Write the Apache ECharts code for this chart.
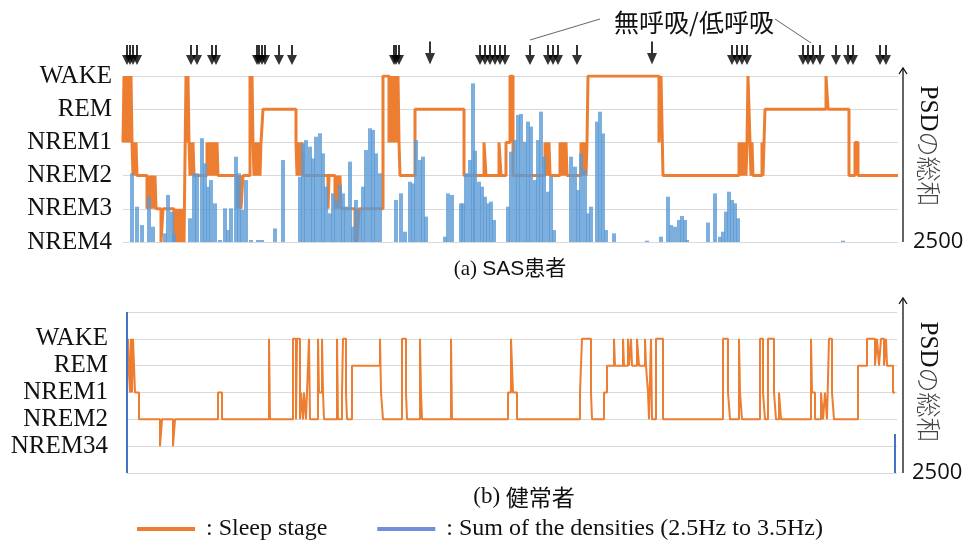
<!DOCTYPE html>
<html><head><meta charset="utf-8">
<script src="https://cdn.jsdelivr.net/npm/echarts@6/dist/echarts.min.js"></script>
<style>html,body{margin:0;padding:0;background:#fff}#c{width:968px;height:545px}</style>
</head><body><div id="c"></div>
<script>
// ---- categories / tick labels ----
const topStageLabels = ['NREM4', 'NREM3', 'NREM2', 'NREM1', 'REM', 'WAKE'];
const bottomStageLabels = ['', 'NREM34', 'NREM2', 'NREM1', 'REM', 'WAKE', ''];
const psdMinLabel = 2500;

// ---- (a) SAS patient: sleep stage [epoch, stage] (0=NREM4 .. 5=WAKE) ----
const sasStage = [
  [0,3],[1,5],[3,3],[4,5],[5,3],[6,5],[7,3],[8,5],[9,3],[10,2],[11,3],[12,2],[13,3],[14,2],
  [24,1],[26,2],[27,1],[28,2],[29,1],[30,2],[31,1],[32,2],[33,1],[38,0],[40,1],
  [51,0],[52,1],[53,0],[54,1],[55,0],[56,1],[57,0],[58,1],[59,0],[60,1],[61,0],[62,0],
  [63,5],[64,3],[65,5],[66,3],[67,2],[68,3],[69,2],[70,3],[71,2],
  [84,3],[85,2],[86,3],[87,2],[88,3],[89,2],[90,3],[91,2],[92,3],[93,2],[94,3],[95,2],
  [114,1],[115,2],[116,1],[117,2],[118,1],[120,2],
  [127,5],[128,3],[129,5],[130,3],[131,2],[132,3],[133,2],[134,3],[135,2],[136,3],[137,2],[138,3],
  [140,4],[173,3],[174,2],[175,3],[176,2],[177,3],[178,2],[179,3],[180,2],
  [205,1],[206,2],[212,1],[213,2],[214,1],[215,2],[216,1],[217,2],[218,1],
  [232,0],[233,1],[234,0],[236,1],
  [260,5],[266,3],[267,5],[268,3],[269,5],[270,3],[271,5],[272,3],[273,5],[274,3],[275,5],[276,3],[277,2],
  [292,4],[341,2],[361,3],[363,2],[376,3],[378,2],[383,3],[387,5],[390,2],
  [422,3],[423,2],[424,3],[425,2],[426,3],[427,2],
  [437,3],[438,2],[439,3],[440,2],[441,3],[442,2],[443,3],[444,2],
  [458,3],[459,2],[460,3],[461,2],[462,3],[463,2],[464,3],[465,5],
  [536,3],[538,5],[540,2],
  [616,3],[617,2],[618,3],[619,2],[620,3],[621,2],[622,3],[623,2],[624,3],[625,5],[627,3],[628,2],[629,3],[630,2],
  [639,3],[640,2],[642,4],[703,5],[705,4],[726,2],[732,3],[735,2],[775,2]
];

// ---- (a) SAS patient: sum of PSD densities (2.5-3.5 Hz) [epoch, value] ----
const sasPsd = [
  [9,2914],[14,2713],[19,2602],[26,2773],[30,2592],[42,2552],[45,2783],[49,2683],[51,2552],
  [67,2643],[71,2914],[74,2914],[79,3125],[82,2974],[85,2833],[88,2873],[92,2733],[97,2512],
  [102,2703],[105,2572],[108,2703],[113,3014],[116,2914],[119,2693],[123,2873],[128,2512],
  [135,2512],[139,2512],[152,2582],[160,2994],
  [177,2893],[180,3094],[183,3114],[187,3074],[190,3004],[193,3134],[197,3155],[200,3034],
  [203,2833],[207,2673],[210,2793],[213,2753],[217,2843],[220,2793],[223,2713],[227,2984],
  [230,2592],[233,2753],[237,2693],[240,2833],[243,3054],[247,3185],[250,3175],[253,3034],[257,2914],
  [273,2753],[278,2793],[282,2562],[287,2863],[290,2853],[293,3114],[297,2994],[300,3014],[303,2653],
  [322,2532],[325,2793],[329,2783],[338,2733],[340,2733],[343,2914],[347,2994],[350,3456],
  [352,3050],[356,2863],[359,2833],[362,2773],[365,2733],[368,2743],[371,2633],
  [385,2713],[388,3044],[392,3114],[395,3265],[398,3271],[402,3104],[405,3225],[408,3195],
  [412,2873],[415,3114],[418,3285],[421,3014],[425,2803],[428,2893],[431,2572],
  [448,3014],[452,2954],[455,2813],[458,3034],[462,2934],[465,2673],[468,2713],
  [474,3225],[477,3285],[480,3154],[483,2572],[491,2552],[524,2508],
  [538,2532],[545,2773],[548,2602],[552,2592],[556,2633],[559,2657],[562,2633],[564,2512],
  [585,2617],[592,2793],[597,2532],[600,2562],[603,2683],[606,2803],[609,2753],[612,2733],[615,2643],
  [720,2508]
];

// ---- (a) apnea / hypopnea events [epoch] ----
const sasEvents = [4,7,10,14,68,74,89,93,134,136,139,142,156,169,271,273,276,
  357,362,367,372,377,382,407,425,430,435,454,609,614,619,624,680,685,690,697,713,725,730,757,763];
const sasLongEvents = [307, 529];

// ---- (b) healthy subject: sleep stage [epoch, stage] (1=NREM34 .. 5=WAKE) ----
const healthyStage = [
  [0,3],[1,5],[3,3],[4,5],[5,3],[6,5],[8,3],[12,2],[33,1],[35,2],[46,1],[48,2],[91,3],[95,2],
  [142,5],[143,2],[166,5],[169,2],[170,5],[173,2],[174,3],[176,2],[177,3],[179,2],[180,3],
  [182,5],[183,2],[191,5],[192,3],[195,5],[196,3],[197,2],[210,5],[211,2],
  [215,3],[216,5],[219,3],[220,2],[225,4],[253,5],[254,3],[256,2],
  [275,5],[279,3],[280,2],[293,5],[294,3],[295,2],[324,5],[325,2],
  [381,3],[384,5],[386,3],[390,2],[453,3],[455,5],[464,3],[465,2],[477,3],
  [480,4],[487,5],[488,4],[496,5],[497,4],[501,5],[502,4],[504,5],[505,4],[510,5],[512,4],
  [518,5],[519,4],[521,3],[522,2],[524,5],[525,2],[529,5],[536,2],
  [596,5],[601,3],[603,2],[612,5],[613,3],[615,2],[633,5],[636,3],[638,2],
  [641,5],[647,3],[649,2],[652,3],[654,2],[684,5],[685,3],[688,2],
  [694,3],[696,2],[698,3],[700,2],[702,5],[705,3],[707,2],
  [731,4],[740,5],[748,4],[750,5],[752,4],[754,5],[757,4],[759,5],[760,4],[766,3],[768,3]
];
// ---- (b) healthy subject: sum of PSD densities ----
const healthyPsd = [[0,3500],[768,2742]];

const ORANGE = '#ED7D31';
const BLUE = '#5B9BD5';
const GRIDC = '#D9D9D9';
const serif = '"Liberation Serif","Times New Roman",serif';
const cjk = '"Noto Sans CJK JP","Noto Sans CJK SC",sans-serif';

const arrowPath = 'path://M4,0 L6,0 L6,10 L10,10 L5,20 L0,10 L4,10 Z';

const chart = echarts.init(document.getElementById('c'), null, {renderer: 'canvas'});

function stageAxis(gridIndex, labels, margin) {
  return {
    type: 'value', gridIndex, min: 0, max: labels.length - 1, interval: 1,
    axisLine: {show: false}, axisTick: {show: false},
    splitLine: {show: true, lineStyle: {color: GRIDC, width: 1}},
    axisLabel: {
      margin, color: '#111', fontFamily: serif, fontSize: 25,
      formatter: v => labels[Math.round(v)] || ''
    }
  };
}
function psdAxis(gridIndex) {
  return {
    type: 'value', gridIndex, position: 'right', min: 2500, max: 3500, startValue: 2500,
    axisLine: {show: false}, axisTick: {show: false}, splitLine: {show: false},
    axisLabel: {
      margin: 15, color: '#111', fontFamily: '"Open Sans","Liberation Sans",sans-serif', fontSize: 22,
      formatter: v => (v === psdMinLabel ? String(psdMinLabel) : '')
    }
  };
}

const option = {
  animation: false,
  backgroundColor: '#fff',
  grid: [
    {left: 123, top: 76, width: 775, height: 166, outerBoundsMode: 'none'},
    {left: 127, top: 312, width: 770, height: 161, outerBoundsMode: 'none'},
    {left: 123, top: 40, width: 775, height: 30, outerBoundsMode: 'none'}
  ],
  xAxis: [
    {type: 'value', gridIndex: 0, min: 0, max: 775, show: false},
    {type: 'value', gridIndex: 1, min: 0, max: 770, show: false},
    {type: 'value', gridIndex: 2, min: 0, max: 775, show: false}
  ],
  yAxis: [
    stageAxis(0, topStageLabels, 11),
    psdAxis(0),
    stageAxis(1, bottomStageLabels, 19),
    {type: 'value', gridIndex: 2, min: 0, max: 1, show: false},
    psdAxis(1)
  ],
  legend: {
    left: 137, top: 517, padding: 0, selectedMode: false,
    itemWidth: 58, itemHeight: 4, itemGap: 50, icon: 'rect',
    formatter: ': {name}',
    textStyle: {fontFamily: serif, fontSize: 24, color: '#111', padding: [0, 0, 0, 6]},
    data: [
      {name: 'Sleep stage', itemStyle: {color: ORANGE, opacity: 1}},
      {name: 'Sum of the densities (2.5Hz to 3.5Hz)', itemStyle: {color: '#6F8FD8', opacity: 1}}
    ]
  },
  series: [
    {
      name: 'Sleep stage', type: 'line', xAxisIndex: 0, yAxisIndex: 0, step: 'end',
      showSymbol: false, symbol: 'none', z: 2,
      lineStyle: {color: ORANGE, width: 3}, itemStyle: {color: ORANGE},
      data: sasStage
    },
    {
      name: 'Sum of the densities (2.5Hz to 3.5Hz)', type: 'bar', xAxisIndex: 0, yAxisIndex: 1,
      barWidth: 4, z: 3, clip: true,
      itemStyle: {color: BLUE, opacity: 0.8},
      data: sasPsd
    },
    {
      name: 'apnea', type: 'scatter', xAxisIndex: 2, yAxisIndex: 3,
      symbol: arrowPath, symbolSize: [10, 20], clip: false,
      itemStyle: {color: '#000'},
      data: sasEvents.map(e => [e, 0.5])
    },
    {
      name: 'apnea-long', type: 'scatter', xAxisIndex: 2, yAxisIndex: 3,
      symbol: arrowPath, symbolSize: [10, 23], symbolOffset: [0, -2], clip: false,
      itemStyle: {color: '#000'},
      data: sasLongEvents.map(e => [e, 0.5])
    },
    {
      name: 'Sleep stage', type: 'line', xAxisIndex: 1, yAxisIndex: 2, step: 'end',
      showSymbol: false, symbol: 'none', z: 2,
      lineStyle: {color: ORANGE, width: 2}, itemStyle: {color: ORANGE},
      data: healthyStage
    },
    {
      name: 'Sum of the densities (2.5Hz to 3.5Hz)', type: 'bar', xAxisIndex: 1, yAxisIndex: 4,
      barWidth: 2, z: 3, clip: true,
      itemStyle: {color: '#4472C4', opacity: 1},
      data: healthyPsd
    }
  ]
};
chart.setOption(option);

// ---- annotations (titles, right-hand PSD axes, callout) ----
function rightArrow(x, yBottom, yTop) {
  return [
    {type: 'line', shape: {x1: x, y1: yBottom, x2: x, y2: yTop}, style: {stroke: '#111', lineWidth: 1.3}, silent: true},
    {type: 'polyline', shape: {points: [[x - 4, yTop + 6], [x, yTop], [x + 4, yTop + 6]]}, style: {stroke: '#111', lineWidth: 1.3, fill: null}, silent: true}
  ];
}
function psdName(y) {
  return {type: 'text', x: 928, y, rotation: -Math.PI / 2, style: {
    text: '{a|PSD}{b|の総和}', align: 'center', verticalAlign: 'middle',
    rich: {a: {font: '25px ' + serif, fill: '#111'}, b: {font: '300 25px ' + cjk, fill: '#444'}}
  }};
}
const pA = chart.convertToPixel({xAxisIndex: 2, yAxisIndex: 3}, [407, 0.5]);
const pB = chart.convertToPixel({xAxisIndex: 2, yAxisIndex: 3}, [688, 0.5]);
const graphics = [
  {type: 'text', x: 694, y: 22, style: {text: '無呼吸/低呼吸', font: '25px ' + cjk, fill: '#111', align: 'center', verticalAlign: 'middle'}},
  {type: 'line', shape: {x1: 600, y1: 19, x2: pA[0], y2: pA[1] - 15}, style: {stroke: '#666', lineWidth: 1}},
  {type: 'line', shape: {x1: 775, y1: 19, x2: pB[0], y2: pB[1] - 12}, style: {stroke: '#666', lineWidth: 1}},
  {type: 'text', x: 510, y: 269, style: {
    text: '{a|(a) }{b|SAS患者}', align: 'center', verticalAlign: 'middle',
    rich: {a: {font: '21px ' + serif, fill: '#111'}, b: {font: '21px "Liberation Sans",' + cjk, fill: '#111'}}
  }},
  {type: 'text', x: 524, y: 497, style: {
    text: '{a|(b) }{b|健常者}', align: 'center', verticalAlign: 'middle',
    rich: {a: {font: '23px ' + serif, fill: '#111'}, b: {font: '23px ' + cjk, fill: '#111'}}
  }},
  psdName(146),
  psdName(382)
].concat(rightArrow(903, 242, 68), rightArrow(903, 473, 298));
chart.setOption({graphic: graphics});
</script>
</body></html>
